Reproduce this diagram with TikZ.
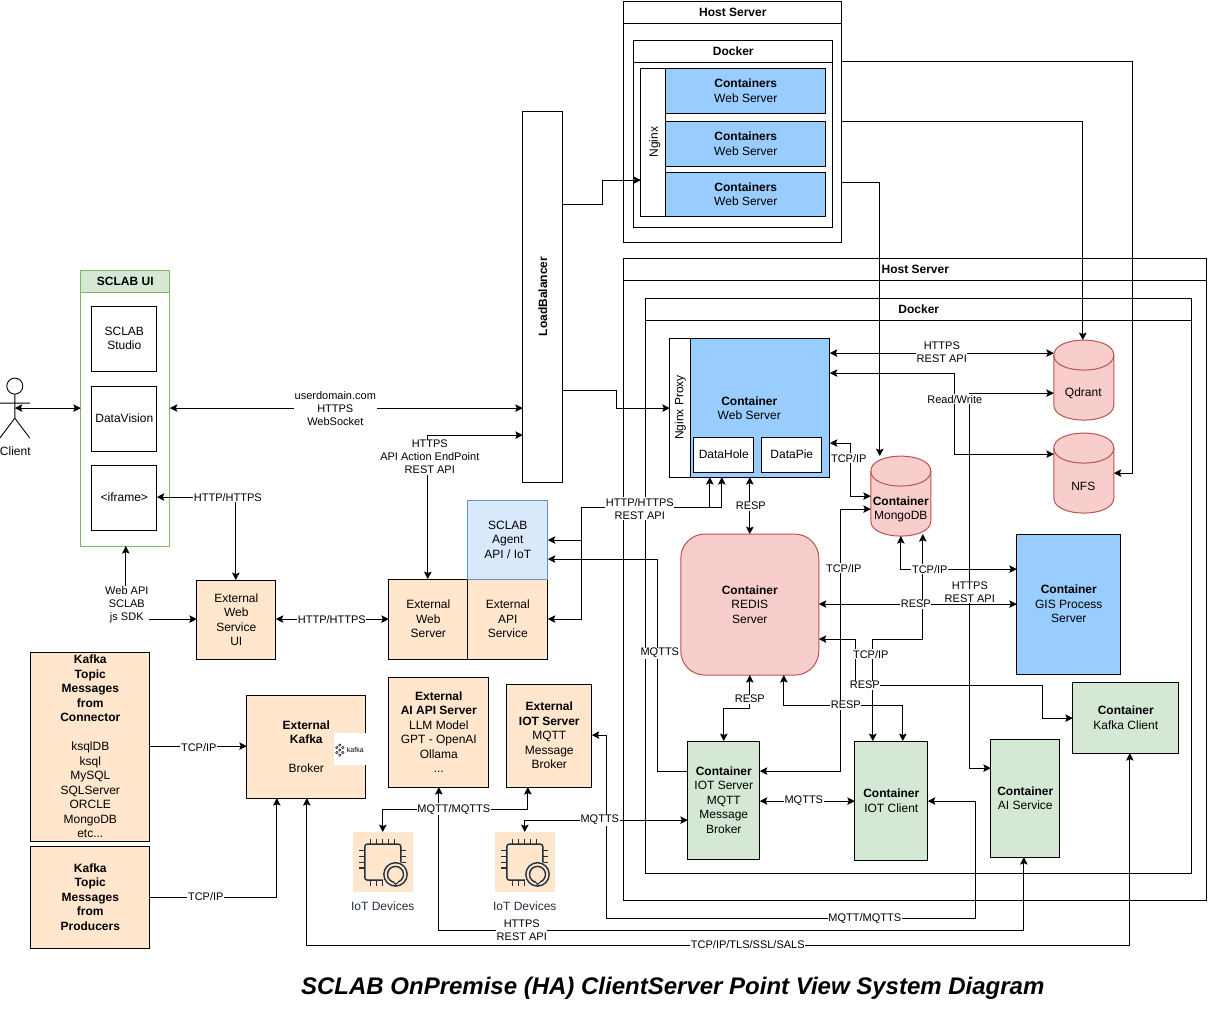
\documentclass[tikz,border=0pt]{standalone}
\usepackage{fontspec}
\setmainfont{Liberation Sans}
\usetikzlibrary{arrows.meta}
\definecolor{peach}{HTML}{FFE6CC}
\definecolor{mint}{HTML}{D5E8D4}
\definecolor{mintline}{HTML}{82B366}
\definecolor{rose}{HTML}{F8CECC}
\definecolor{roseline}{HTML}{B85450}
\definecolor{sky}{HTML}{99CCFF}
\definecolor{pale}{HTML}{DAE8FC}
\definecolor{paleline}{HTML}{6C8EBF}
\definecolor{chipline}{HTML}{232F3E}
\tikzset{
  sz/.style 2 args={minimum width=#1pt,minimum height=#2pt,anchor=north west},
  plain/.style={draw,line width=1pt,inner sep=0pt,outer sep=0pt,align=center,
    font=\fontsize{12}{14.5}\selectfont},
  lane/.style={plain,fill=white},
  ext/.style={plain,fill=peach},
  cont/.style={plain,fill=mint},
  web/.style={plain,fill=sky},
  dbarea/.style={inner sep=0pt,outer sep=0pt,minimum width=60pt,minimum height=80pt,anchor=north west},
  words/.style={inner sep=0pt,align=center,font=\fontsize{12}{14.5}\selectfont},
  lbl/.style={fill=white,inner sep=0.6pt,align=center,outer sep=0pt,
    font=\fontsize{11}{13}\selectfont},
  link/.style={line width=0.9pt,-{Stealth[length=7.5pt,width=7.5pt,inset=1.5pt]}},
  both/.style={line width=0.9pt,{Stealth[length=7.5pt,width=7.5pt,inset=1.5pt]}-{Stealth[length=7.5pt,width=7.5pt,inset=1.5pt]}},
  pics/drum/.style={code={
    \draw[roseline,line width=1pt,fill=rose] (0,15) .. controls (0,-5) and (60,-5) .. (60,15)
      -- (60,65) .. controls (60,85) and (0,85) .. (0,65) -- cycle;
    \draw[roseline,line width=1pt] (0,15) .. controls (0,35) and (60,35) .. (60,15);
  }},
  pics/iotchip/.style={code={
    \fill[peach] (0,0) rectangle (60,60);
    \draw[chipline,line width=1.4pt,rounded corners=2.5pt]
      (30,48) -- (12,48) -- (12,12) -- (48,12) -- (48,30);
    \foreach \p in {18,24,30,36,42} {
      \draw[chipline,line width=1.2pt] (\p,6.5) -- (\p,12);
    }
    \foreach \p in {18,24,30} {
      \draw[chipline,line width=1.2pt] (6.5,\p) -- (12,\p);
      \draw[chipline,line width=1.2pt] (48,\p) -- (53.5,\p);
      \draw[chipline,line width=1.2pt] (\p,48) -- (\p,53.5);
    }
    \draw[chipline,line width=1.4pt] (6.5,36) -- (12,36);
    \draw[chipline,line width=1.4pt,fill=peach] (42.7,42.3) circle (11.7);
    \draw[chipline,line width=1.4pt] (42.7,42.3) circle (8);
    \draw[peach,line width=2pt] (41,50.3) -- (45,50.3);
    \draw[chipline,line width=1pt] (41,50.3) -- (42.7,52.5) -- (45,50.3);
  }}
}
\begin{document}
\begin{tikzpicture}[x=1pt,y=-1pt]
  \useasboundingbox (0.2,-0.1) rectangle (1208.2,1015.9);
  %
  % HOST SERVER (TOP)
  \node[lane,sz={218}{241}] (hosta) at (624,1) {};
  \node[lane,sz={218}{22}] (hostatitle) at (624,1) {\textbf{Host Server}};
  \node[lane,sz={199}{187}] (dockera) at (634,40) {};
  \node[lane,sz={199}{22}] (dockeratitle) at (634,40) {\textbf{Docker}};
  \node[lane,sz={25}{148}] (nginxa) at (641,68) {\hspace*{3pt}\rotatebox{90}{Nginx}};
  \node[web,sz={160}{45}] (weba) at (666,68) {\textbf{Containers}\\Web Server};
  \node[web,sz={160}{45}] (webb) at (666,121) {\textbf{Containers}\\Web Server};
  \node[web,sz={160}{44}] (webc) at (666,172) {\textbf{Containers}\\Web Server};
  % LOAD BALANCER
  \node[lane,sz={40}{371}] (lb) at (523,111) {\rotatebox{90}{\textbf{LoadBalancer}}};
  %
  % HOST SERVER (BOTTOM)
  \node[lane,sz={583}{642}] (hostb) at (624,258) {};
  \node[lane,sz={583}{22}] (hostbtitle) at (624,258.5) {\textbf{Host Server}};
  \node[lane,sz={546}{575}] (dockerb) at (646,298) {};
  \node[lane,sz={546}{22}] (dockerbtitle) at (646,298.5) {\textbf{Docker}};
  \node[lane,sz={21}{139}] (nginxb) at (670,338) {\rotatebox{90}{Nginx Proxy}};
  \node[web,sz={139}{139}] (webmain) at (691,338) {};
  \node[words] (webmaintext) at (749.5,408) {\textbf{Container}\\Web Server};
  \node[lane,sz={60}{35}] (datahole) at (694,437) {DataHole};
  \node[lane,sz={60}{35}] (datapie) at (762,437) {DataPie};
  \pic at (871,456) {drum};
  \pic at (1054,340) {drum};
  \pic at (1054,433) {drum};
  \node[dbarea] (mongo) at (871,456) {};
  \node[dbarea] (qdrant) at (1054,340) {};
  \node[dbarea] (nfs) at (1054,433) {};
  \node[words] (mongotext) at (901,509.5) {\textbf{Container}\\MongoDB};
  \node[words] (qdranttext) at (1083.5,393) {Qdrant};
  \node[words] (nfstext) at (1083.5,486) {NFS};
  \node[plain,draw=roseline,fill=rose,rounded corners=24pt,sz={138}{141}] (redis) at (681,534)
    {\textbf{Container}\\REDIS\\Server};
  \node[web,sz={104}{140}] (gis) at (1017,534) {\textbf{Container}\\GIS Process\\Server};
  \node[cont,sz={106}{71}] (kafkaclient) at (1073,682) {\textbf{Container}\\Kafka Client};
  \node[cont,sz={69}{118}] (aiservice) at (991,739) {\textbf{Container}\\AI Service};
  \node[cont,sz={73}{119}] (iotclient) at (855,741) {\textbf{Container}\\IOT Client};
  \node[cont,sz={72}{118}] (iotserver) at (688,741) {\textbf{Container}\\IOT Server\\MQTT\\Message\\Broker};
  %
  % SCLAB UI
  \node[plain,draw=mintline,fill=white,sz={89}{276}] (sclabui) at (81,270) {};
  \node[plain,draw=mintline,fill=mint,sz={89}{22}] (sclabtitle) at (81,270) {\textbf{SCLAB UI}};
  \node[lane,sz={65}{65}] (studio) at (92,306) {SCLAB\\Studio};
  \node[lane,sz={65}{65}] (datavision) at (92,386) {DataVision};
  \node[lane,sz={65}{65}] (iframe) at (92,465) {<iframe>};
  % CLIENT
  \coordinate (clienthand) at (15,408);
  \draw[line width=0.9pt,fill=white] (15,386) circle (8);
  \draw[line width=0.9pt] (15,394) -- (15,418) (0,403) -- (30,403) (0,438) -- (15,418) -- (30,438);
  \node[words] (client) at (15.5,451) {Client};
  %
  % EXTERNAL
  \node[ext,sz={79}{79}] (webui) at (197,580) {External\\Web\\Service\\UI};
  \node[ext,sz={79}{80}] (extweb) at (389,579) {External\\Web\\Server};
  \node[ext,sz={80}{80}] (extapi) at (468,579) {External\\API\\Service};
  \node[plain,draw=paleline,fill=pale,sz={80}{79}] (agent) at (468,500) {SCLAB\\Agent\\API / IoT};
  \node[ext,sz={119}{189}] (connector) at (31,652) {\textbf{Kafka}\\\textbf{Topic}\\\textbf{Messages}\\\textbf{from}\\\textbf{Connector}\\[14.5pt]ksqlDB\\ksql\\MySQL\\SQLServer\\ORCLE\\MongoDB\\etc...};
  \node[ext,sz={119}{102}] (producers) at (31,846) {\textbf{Kafka}\\\textbf{Topic}\\\textbf{Messages}\\\textbf{from}\\\textbf{Producers}};
  \node[ext,sz={119}{103}] (kafka) at (247,695) {\textbf{External}\\\textbf{Kafka}\\[14.5pt]Broker};
  \node[fill=white,inner sep=0pt,sz={32}{32}] (kafkalogo) at (334,733) {};
  \node[inner sep=0pt,font=\fontsize{7}{8}\selectfont] (kafkaword) at (355.5,749.5) {kafka};
  \foreach \cx/\cy in {340/745,340/750,340/755,343/747.5,343/752.5,337/747.5,337/752.5} {
    \draw[black,line width=0.5pt] (\cx,\cy) circle (1.2);
  }
  \node[ext,sz={100}{110}] (extai) at (389,677) {\textbf{External}\\\textbf{AI API Server}\\LLM Model\\GPT - OpenAI\\Ollama\\...};
  \node[ext,sz={85}{103}] (extiot) at (507,684) {\textbf{External}\\\textbf{IOT Server}\\MQTT\\Message\\Broker};
  \pic at (353,832) {iotchip};
  \pic at (495,832) {iotchip};
  \coordinate (devicea) at (383,832);
  \coordinate (deviceb) at (525,832);
  \node[words,text=chipline] (devicealbl) at (383,906) {IoT Devices};
  \node[words,text=chipline] (deviceblbl) at (525,906) {IoT Devices};
  % TITLE
  \node[inner sep=0pt,font=\fontsize{24}{30}\selectfont\bfseries\itshape] (title) at (673,988.5)
    {SCLAB OnPremise (HA) ClientServer Point View System Diagram};
  %
  % CONNECTORS
  \draw[both] (clienthand) -- (sclabui.west |- clienthand);
  \draw[both] (sclabui.east |- 0,408) -- (lb.west |- 0,408);
  \draw[both] (extweb.north -| 428,0) -- (428,435) -- (lb.west |- 0,435);
  \draw[link] (lb.east |- 0,204) -- (603,204) -- (603,180) -- (nginxa.west |- 0,180);
  \draw[link] (lb.east |- 0,390) -- (617,390) -- (617,408) -- (nginxb.west |- 0,408);
  \draw[both] (iframe.east |- 0,497) -- (236,497) -- (webui.north -| 236,0);
  \draw[both] (sclabui.south -| 126,0) -- (126,619) -- (webui.west |- 0,619);
  \draw[both] (webui.east |- 0,619) -- (extweb.west |- 0,619);
  \draw[link] (connector.east |- 0,746) -- (kafka.west |- 0,746);
  \draw[link] (producers.east |- 0,897) -- (277,897) -- (kafka.south -| 277,0);
  \draw[both] (devicea) -- (383,809) -- (528,809) -- (extiot.south -| 528,0);
  \draw[both] (deviceb) -- (525,820) -- (iotserver.west |- 0,820);
  % HTTP
  \draw[both] (extapi.east |- 0,619) -- (582,619) -- (582,507) -- (722,507) -- (webmain.south -| 722,0);
  \draw[link] (582,507) -- (710,507) -- (webmain.south -| 710,0);
  \draw[link] (582,540) -- (agent.east |- 0,540);
  \draw[link] (iotserver.west |- 0,771) -- (658,771) -- (658,559) -- (agent.east |- 0,559);
  % RESP AND TCP
  \draw[both] (webmain.south -| 750,0) -- (redis.north -| 750,0);
  \draw[both] (webmain.east |- 0,443) -- (851,443) -- (851,496) -- (mongo.west |- 0,496);
  \draw[both] (iotserver.east |- 0,771) -- (841,771) -- (841,509) -- (mongo.west |- 0,509);
  \draw[both] (mongo.south -| 901,0) -- (901,569) -- (gis.west |- 0,569);
  \draw[both] (923,534) -- (923,639) -- (873,639) -- (iotclient.north -| 873,0);
  \draw[both] (redis.east |- 0,604) -- (gis.west |- 0,604);
  \draw[both] (redis.east |- 0,639) -- (856,639) -- (856,685) -- (1043,685) -- (1043,718) -- (kafkaclient.west |- 0,718);
  \draw[both] (redis.south -| 784,0) -- (784,705) -- (903,705) -- (iotclient.north -| 903,0);
  \draw[both] (redis.south -| 750,0) -- (750,708) -- (724,708) -- (iotserver.north -| 724,0);
  \draw[both] (iotserver.east |- 0,801) -- (iotclient.west |- 0,801);
  % STORAGE
  \draw[both] (webmain.east |- 0,353) -- (qdrant.west |- 0,353);
  \draw[both] (webmain.east |- 0,373) -- (955,373) -- (955,454) -- (nfs.west |- 0,454);
  \draw[both] (aiservice.west |- 0,768) -- (970,768) -- (970,393) -- (qdrant.west |- 0,393);
  \draw[link] (hosta.east |- 0,182) -- (880,182) -- (mongo.north -| 880,0);
  \draw[link] (hosta.east |- 0,121) -- (1083,121) -- (qdrant.north -| 1083,0);
  \draw[link] (hosta.east |- 0,61) -- (1133,61) -- (1133,473) -- (nfs.east |- 0,473);
  % BOTTOM ROUTES
  \draw[both] (iotclient.east |- 0,801) -- (976,801) -- (976,918) -- (607,918) -- (607,735) -- (extiot.east |- 0,735);
  \draw[both] (aiservice.south -| 1024,0) -- (1024,930) -- (439,930) -- (extai.south -| 439,0);
  \draw[both] (kafkaclient.south -| 1130,0) -- (1130,945) -- (307,945) -- (kafka.south -| 307,0);
  %
  % LABELS
  \node[lbl] (l01) at (335.5,408) {userdomain.com\\HTTPS\\WebSocket};
  \node[lbl] (l02) at (430,457) {HTTPS\\API Action EndPoint\\REST API};
  \node[lbl] (l03) at (228,497) {HTTP/HTTPS};
  \node[lbl] (l04) at (127,605) {Web API\\SCLAB\\js SDK};
  \node[lbl] (l05) at (332,619) {HTTP/HTTPS};
  \node[lbl] (l06) at (199,747) {TCP/IP};
  \node[lbl] (l07) at (206,896) {TCP/IP};
  \node[lbl] (l08) at (454,809) {MQTT/MQTTS};
  \node[lbl] (l09) at (600,820) {MQTTS};
  \node[lbl] (l10) at (640,508.5) {HTTP/HTTPS\\REST API};
  \node[lbl] (l11) at (660,653) {MQTTS};
  \node[lbl] (l12) at (751,506) {RESP};
  \node[lbl] (l13) at (849,458) {TCP/IP};
  \node[lbl] (l14) at (844,568) {TCP/IP};
  \node[lbl] (l15) at (930,569) {TCP/IP};
  \node[lbl] (l16) at (871,654) {TCP/IP};
  \node[lbl] (l17) at (916,604) {RESP};
  \node[lbl] (l18) at (970,592) {HTTPS\\REST API};
  \node[lbl] (l19) at (865,685) {RESP};
  \node[lbl] (l20) at (846,705) {RESP};
  \node[lbl] (l21) at (750,699) {RESP};
  \node[lbl] (l22) at (804,801) {MQTTS};
  \node[lbl] (l23) at (942,352) {HTTPS\\REST API};
  \node[lbl] (l24) at (955,399) {Read/Write};
  \node[lbl] (l25) at (865,918) {MQTT/MQTTS};
  \node[lbl] (l26) at (522,930) {HTTPS\\REST API};
  \node[lbl] (l27) at (748,944) {TCP/IP/TLS/SSL/SALS};
  %
\end{tikzpicture}
\end{document}
